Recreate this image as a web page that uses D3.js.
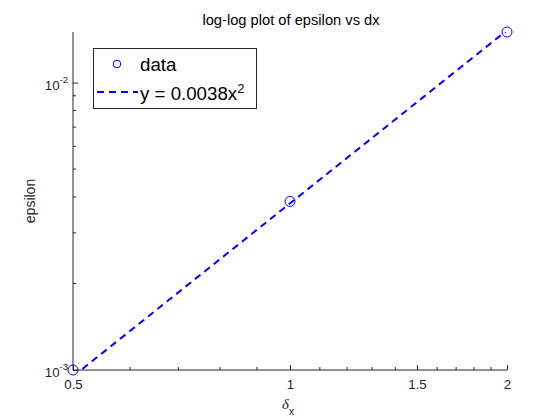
<!DOCTYPE html>
<html>
<head>
<meta charset="utf-8">
<script src="https://cdn.jsdelivr.net/npm/d3@7"></script>
<style>
  body { margin: 0; background: #fff; }
  text { font-family: "Liberation Sans", Arial, sans-serif; }
</style>
</head>
<body>
<svg width="560" height="420"></svg>
<script>
// data
let dx = [0.5, 1, 2]
let epsilon = [0.001, 0.00386, 0.0150]
// fitted curve y = 0.0038 x^2 (only the two end points, it is a straight line on log-log)
let fitX = [0.5, 2]
let fitY = [0.0038 * 0.25, 0.0038 * 4]
let xTicks = [0.5, 1, 1.5, 2]
let xTickLabels = ['0.5', '1', '1.5', '2']
let xMinor = [0.6, 0.7, 0.8, 0.9, 1.1, 1.2, 1.3, 1.4, 1.6, 1.7, 1.8, 1.9]
let yTicks = [0.001, 0.01]
let yTickExp = ['-3', '-2']
let yMinor = [0.002, 0.003, 0.004, 0.005, 0.006, 0.007, 0.008, 0.009]

let width = 560
let height = 420
let padLeft = 73, padRight = 507, padTop = 32, padBottom = 370

let svg = d3.select('svg')

let xScale = d3.scaleLog().domain([0.5, 2]).range([padLeft, padRight])
let yScale = d3.scaleLog().domain([0.001, 0.0150]).range([padBottom, padTop])

let axisColor = '#262626'

// clip for the plotted curves
svg.append('clipPath').attr('id', 'clip')
  .append('rect').attr('x', padLeft).attr('y', padTop)
  .attr('width', padRight - padLeft).attr('height', padBottom - padTop)

// x axis
let xAxis = d3.axisBottom(xScale)
  .tickValues(xTicks)
  .tickFormat((d, i) => xTickLabels[i])
  .tickSize(-5)
  .tickPadding(10)
let gx = svg.append('g')
  .attr('transform', 'translate(0,' + padBottom + ')')
  .call(xAxis)
gx.select('.domain').attr('stroke', axisColor).attr('d', 'M' + padLeft + ',0H' + padRight)
gx.selectAll('.tick line').attr('stroke', axisColor)
gx.selectAll('.tick text').attr('fill', axisColor).style('font-size', '13.3px')
  .attr('font-family', '"Liberation Sans", Arial, sans-serif')
  .attr('y', 19).attr('dy', 0)

let gxm = svg.append('g')
gxm.selectAll('line').data(xMinor).enter().append('line')
  .attr('x1', d => xScale(d)).attr('x2', d => xScale(d))
  .attr('y1', padBottom).attr('y2', padBottom - 3)
  .attr('stroke', axisColor)

// y axis
let yAxis = d3.axisLeft(yScale)
  .tickValues(yTicks)
  .tickFormat('')
  .tickSize(-5)
let gy = svg.append('g')
  .attr('transform', 'translate(' + padLeft + ',0)')
  .call(yAxis)
gy.select('.domain').attr('stroke', axisColor).attr('d', 'M0,' + padTop + 'V' + padBottom)
gy.selectAll('.tick line').attr('stroke', axisColor)

let gym = svg.append('g')
gym.selectAll('line').data(yMinor).enter().append('line')
  .attr('x1', padLeft).attr('x2', padLeft + 3)
  .attr('y1', d => yScale(d)).attr('y2', d => yScale(d))
  .attr('stroke', axisColor)

// y tick labels as 10^n
yTicks.forEach((v, i) => {
  let t = svg.append('text')
    .attr('x', padLeft - 5)
    .attr('y', yScale(v) + 7)
    .attr('text-anchor', 'end')
    .attr('fill', axisColor)
    .style('font-size', '13.3px')
  t.append('tspan').text('10')
  t.append('tspan').attr('dy', -7).style('font-size', '9.5px').text(yTickExp[i])
})

// fitted line
svg.append('path')
  .datum(fitX.map((x, i) => [x, fitY[i]]))
  .attr('clip-path', 'url(#clip)')
  .attr('fill', 'none')
  .attr('stroke', '#0000ff')
  .attr('stroke-width', 2)
  .attr('stroke-dasharray', '7,5')
  .attr('d', d3.line().x(d => xScale(d[0])).y(d => yScale(d[1])))

// data markers
svg.selectAll('circle.pt')
  .data(dx)
  .enter()
  .append('circle')
  .attr('class', 'pt')
  .attr('cx', d => xScale(d))
  .attr('cy', (d, i) => yScale(epsilon[i]))
  .attr('r', 5)
  .attr('fill', 'none')
  .attr('stroke', '#0000ff')
  .attr('stroke-width', 1)

// title
svg.append('text')
  .attr('x', (padLeft + padRight) / 2 + 1)
  .attr('y', 25)
  .attr('text-anchor', 'middle')
  .attr('fill', '#000')
  .style('font-size', '14.7px')
  .text('log-log plot of epsilon vs dx')

// x label: delta with subscript x
let xl = svg.append('text')
  .attr('x', 282)
  .attr('y', 409)
  .attr('fill', axisColor)
  .style('font-size', '14.7px')
xl.append('tspan').style('font-style', 'italic').attr('font-family', '"Liberation Serif", serif').text('δ')
xl.append('tspan').attr('dy', 6).style('font-size', '11px').text('x')

// y label
svg.append('text')
  .attr('transform', 'translate(35,' + ((padTop + padBottom) / 2) + ') rotate(-90)')
  .attr('text-anchor', 'middle')
  .attr('fill', axisColor)
  .style('font-size', '14px')
  .text('epsilon')

// legend
let lg = svg.append('g')
lg.append('rect')
  .attr('x', 93.5).attr('y', 48.5)
  .attr('width', 163).attr('height', 60)
  .attr('fill', '#fff').attr('stroke', '#262626').attr('stroke-width', 1)
lg.append('circle')
  .attr('cx', 117).attr('cy', 64).attr('r', 3.8)
  .attr('fill', 'none').attr('stroke', '#0000ff')
lg.append('line')
  .attr('x1', 97).attr('x2', 138).attr('y1', 92).attr('y2', 92)
  .attr('stroke', '#0000ff').attr('stroke-width', 2)
  .attr('stroke-dasharray', '7,5')
lg.append('text')
  .attr('x', 140).attr('y', 71)
  .attr('fill', '#000').style('font-size', '18.7px')
  .text('data')
let lt = lg.append('text')
  .attr('x', 140).attr('y', 100)
  .attr('fill', '#000').style('font-size', '18.7px')
lt.append('tspan').text('y = 0.0038x')
lt.append('tspan').attr('dy', -7).style('font-size', '13px').text('2')
</script>
</body>
</html>
